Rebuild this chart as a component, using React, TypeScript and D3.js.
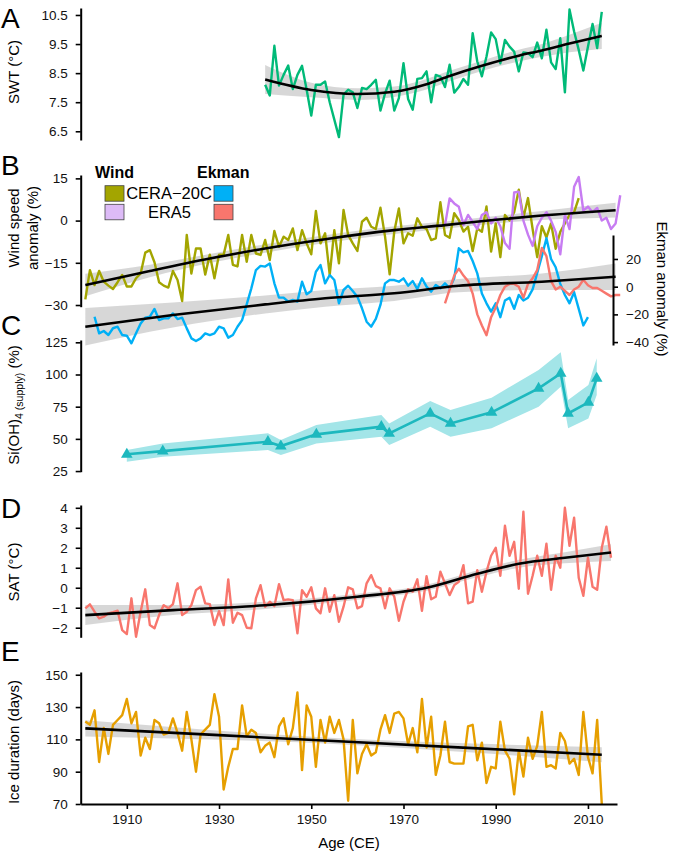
import * as d3 from "d3";
import { useEffect, useRef } from "react";

const FONT = "'Liberation Sans', Arial, Helvetica, sans-serif";

// ---------- A: SWT (°C), annual, 1940-2013
const swtStart = 1940;
const swtValues = [
  8.1, 7.73, 9.44, 8.07, 8.44, 8.76, 7.95, 8.44, 8.75, 7.93,
  7.04, 8.1, 8.1, 8.21, 7.5, 6.9, 6.3, 7.76, 7.93, 7.84,
  7.3, 7.99, 7.95, 8.1, 8.27, 7.21, 7.8, 8.24, 7.21, 7.64,
  8.84, 7.61, 7.24, 8.3, 8.33, 8.56, 7.5, 8.44, 8.38, 8.02,
  8.79, 7.83, 8.02, 8.3, 8.1, 9.87, 8.9, 8.39, 9.07, 9.9,
  9.67, 8.84, 9.64, 9.41, 9.24, 8.56, 9.21, 9.19, 9.05, 9.55,
  9.01, 9.99, 8.87, 8.64, 9.7, 7.84, 10.69, 9.93, 9.3, 8.59,
  9.41, 10.19, 9.36, 10.61,
];
const swtFitYears = [1940, 1950, 1960, 1968, 1975, 1980, 1987, 1995, 2000, 2006, 2013];
const swtFit = [8.28, 7.92, 7.78, 7.86, 8.12, 8.4, 8.75, 9.1, 9.28, 9.52, 9.78];
const swtFitSe = [0.5, 0.25, 0.2, 0.18, 0.18, 0.18, 0.18, 0.2, 0.22, 0.3, 0.45];

// ---------- B: wind speed anomaly (%) and Ekman anomaly (%)
const windCeraStart = 1901;
const windCera = [
  -28.0, -17.6, -22.9, -17.9, -21.7, -23.1, -24.3, -21.9, -19.3, -23.4,
  -23.4, -20.5, -18.8, -11.4, -10.5, -14.8, -21.9, -23.1, -23.8, -17.9,
  -21.1, -28.6, -5.1, -18.8, -9.9, -9.9, -19.2, -12.1, -20.5, -12.1,
  -12.1, -5.1, -15.7, -16.3, -5.1, -14.6, -5.1, -11.7, -12.2, -6.9,
  -14.0, -3.7, -9.3, -5.7, -6.9, -2.8, -10.5, -3.4, -8.1, -12.0,
  3.4, -8.1, -4.5, -19.3, -3.4, -15.2, 3.8, -5.1, -8.1, -10.8,
  -0.4, 1.0, -2.2, -3.0, 4.6, -5.7, -19.1, -3.9, 4.3, -8.1,
  -4.5, -5.4, 0.8, -2.2, -3.0, -6.9, -6.3, 6.5, -5.1, -6.1,
  2.6, 0.2, -3.9, -2.2, -10.8, -2.8, -4, 5, -11, -1,
  -13, 2, 0, 3, 11, 1, 8, -3, -13, -2,
  -6, -1, -10, -4, -1, 2, 3, 8,
];
const windEra5Start = 1979;
const windEra5 = [
  -1.6, 7.9, 6.1, 4.9, -1.6, 2.0, -0.5, -3, 2, 3,
  -1, 1, -2, -8, -10, 10, 10.3, 0, -5, -9,
  -2, 1, 3, 0, -4, -12, 2, -3, 12, 15.5,
  3.5, 5, 3, 4.5, 0, 1, -3, -1, 9,
];
const ekmanCeraStart = 1903;
const ekmanCera = [
  -21.7, -33.7, -32, -34.9, -30, -28.9, -34.9, -35.4, -40.9, -33.7,
  -26.5, -22.4, -21.7, -16.1, -24.1, -22.9, -22.9, -19.3, -23.4, -22.4,
  -30.1, -37.3, -39.2, -37.3, -33.7, -34.9, -33.7, -28.9, -30.1, -36.8,
  -34.9, -28.9, -24.1, -12.8, -1.2, 12.0, 15, 14.5, 16.8, 2.4,
  -7.9, -7.9, -10.8, -9.6, -10.8, 3.6, -5.5, -3.1, 10.8, 15.6,
  2.4, 8.4, 4.8, -12.0, -2.4, 0.7, -3.1, -7.2, -15.6, -25.3,
  -28.9, -23.3, -13.2, 2.4, 4.8, 4.8, 3.6, 6.0, 0.7, 4.1,
  -1.7, 6.0, 0.0, -3.6, 1.2, -1.2, 2.4, -1.2, 6.0, 27.7,
  24.8, 25.8, 18.5, 9.6, -5, -12, -18, -12, -22, -10,
  -8, -16, -6, -10, -8, -2, 10, 22, 35, 20,
  14, 2, -6, -12, -4, -16, -28, -22,
];
const ekmanEra5Start = 1979;
const ekmanEra5 = [
  -12, -2, 8, 13, 8, 4, -5, -20, -28, -35,
  -22, -15, -6, 0, 2, 2, 0, -8, 2, 6,
  12, 28, 22, 4, -2, 0, -3, -6, -2, 0,
  5, 1, -1, -1, -3, -5, -7, -6, -6,
];
const windFitYears = [1901, 1915, 1928, 1940, 1953, 1968, 1979, 1990, 2000, 2016];
const windFit = [-22.9, -17.9, -13.5, -9.9, -6.6, -3.4, -1.6, 0.3, 1.8, 3.7];
const windFitSe = [4, 2.2, 1.6, 1.5, 1.4, 1.4, 1.3, 1.3, 1.6, 2.6];
const ekmanFitYears = [1901, 1920, 1940, 1953, 1968, 1982, 2000, 2016];
const ekmanFit = [-28.9, -20.5, -12.8, -8.4, -4.8, 0.7, 3.6, 7.2];
const ekmanFitSe = [13.5, 9, 6.5, 6, 5.5, 4.8, 6, 9.6];

// ---------- C: Si(OH)4 supply (%)
const silicaYears = [1910, 1917.8, 1940.6, 1943.4, 1951.1, 1965.2, 1966.9, 1975.8, 1980.2, 1989.1, 1999.3, 2004.1, 2005.7, 2010.1, 2011.9];
const silicaValues = [38.0, 40.5, 47.8, 44.4, 53.5, 59.5, 54.3, 69.8, 62.0, 70.6, 89.2, 100.9, 69.8, 78.4, 97.0];
const silicaLow = [32.3, 36.1, 41.3, 37.4, 46.5, 51.7, 45.2, 59.5, 51.7, 58.2, 75.0, 90.5, 58.2, 65.9, 84.1];
const silicaHigh = [41.3, 46.5, 54.3, 49.1, 60.8, 68.5, 62.0, 79.4, 72.4, 82.0, 103.5, 117.2, 80.2, 91.8, 112.6];

// ---------- D: SAT (°C), annual, 1901-2015
const satStart = 1901;
const satValues = [
  -1.03, -0.83, -1.2, -1.53, -1.45, -1.28, -1.22, -1.15, -2.12, -2.32,
  -0.53, -2.45, -1.2, -0.08, -1.87, -2.03, -1.37, -0.87, -1.03, -0.82,
  0.22, -1.37, -1.2, -0.87, -0.12, 0.05, -0.78, -0.82, -1.87, -1.17,
  -1.87, 0.42, -1.75, -1.25, -1.37, -2.0, -2.03, -0.53, 0.13, -0.95,
  -0.7, -0.92, 0.18, -0.62, -0.58, -0.62, -2.28, -0.12, -0.45, 0.02,
  -1.03, -1.28, -0.03, -1.2, -0.37, -1.7, -0.95, 0.02, -0.08, -1.03,
  -0.92, 0.22, 0.63, 0.08, -0.03, -1.03, -0.03, -0.45, -1.65, -0.7,
  -0.08, -0.2, 0.42, -1.15, 0.58, -0.58, -0.45, 0.8, 0.22, -0.37,
  0.13, 0.3, 1.13, -0.78, -0.7, 0.88, -0.2, 0.8, 1.6, 2.0,
  0.6, 3.1, 1.6, 2.3, -0.05, 3.8, -0.3, 0.6, 1.6, 0.6,
  2.2, -0.1, 1.6, 1.0, 4.0, 2.1, 3.5, 0.5, -0.4, 1.5,
  0.05, -0.1, 2.0, 3.05, 1.5,
];
const satFitYears = [1901, 1920, 1940, 1960, 1975, 1986, 1995, 2005, 2015];
const satFit = [-1.37, -1.12, -0.88, -0.45, 0.0, 0.7, 1.2, 1.5, 1.76];
const satFitSe = [0.5, 0.25, 0.18, 0.15, 0.15, 0.18, 0.2, 0.28, 0.42];

// ---------- E: ice duration (days), annual, 1901-2013
const iceStart = 1901;
const iceValues = [
  121, 119, 128, 96, 117, 101, 119, 122, 125, 135,
  120, 127, 100, 111, 104, 122, 120, 113, 114, 123,
  114, 103, 127, 110, 90, 113, 116, 119, 138, 124,
  79, 93, 104, 104, 131, 112, 116, 114, 102, 106,
  108, 99, 118, 123, 107, 117, 139, 91, 131, 124,
  93, 122, 108, 124, 114, 122, 110, 72, 122, 89,
  101, 107, 100, 102, 116, 125, 114, 126, 127, 123,
  107, 117, 102, 135, 105, 124, 88, 100, 121, 96,
  95, 95, 95, 118, 119, 97, 108, 83, 93, 92,
  121, 103, 98, 76, 103, 87, 111, 98, 106, 127,
  93, 94, 92, 114, 109, 95, 98, 88, 127, 99,
  89, 122, 70,
];
const iceFitYears = [1901, 1930, 1957, 1985, 2013];
const iceFit = [116.8, 112.6, 108.7, 104.6, 100.5];
const iceFitSe = [5, 2.8, 1.8, 2.8, 4.6];

const xTicks = [1910, 1930, 1950, 1970, 1990, 2010];

type Pt = [number, number];
const annual = (start: number, vals: number[]): Pt[] => vals.map((v, i) => [start + i, v]);

// ggplot-style labels with a true minus sign
const num = (d: number) => (d < 0 ? "\u2212" + Math.abs(d) : String(d));

export default function App() {
  const svgRef = useRef<SVGSVGElement>(null);

  useEffect(() => {
    if (!svgRef.current) return;
    const svg = d3.select(svgRef.current);
    svg.selectAll("*").remove();

    const x = d3.scaleLinear().domain([1900, 2016.3]).range([80.7, 617]);

    const yA = d3.scaleLinear().domain([6.2, 10.74]).range([140, 8]);
    const yB = d3.scaleLinear().domain([-30.6, 16.2]).range([306.7, 175]);
    const yBr = d3.scaleLinear().domain([-42.1, 37.3]).range([345, 235]);
    const yC = d3.scaleLinear().domain([24.5, 126.8]).range([471.7, 340]);
    const yD = d3.scaleLinear().domain([-2.48, 4.14]).range([637.3, 505]);
    const yE = d3.scaleLinear().domain([70, 151.7]).range([804, 672]);

    const g = svg.append("g").style("font-family", FONT);

    const band = (years: number[], fit: number[], se: number[], y: d3.ScaleLinear<number, number>) => {
      const rows = years.map((yr, i) => ({ yr, lo: fit[i] - se[i], hi: fit[i] + se[i] }));
      g.append("path")
        .attr("d", d3.area<any>().x((d) => x(d.yr)).y0((d) => y(d.lo)).y1((d) => y(d.hi)).curve(d3.curveMonotoneX)(rows)!)
        .attr("fill", "#d3d3d3")
        .attr("opacity", 0.9);
    };
    const fitLine = (years: number[], fit: number[], y: d3.ScaleLinear<number, number>) => {
      g.append("path")
        .attr("d", d3.line<number>().x((d, i) => x(years[i])).y((d) => y(d)).curve(d3.curveMonotoneX)(fit)!)
        .attr("fill", "none")
        .attr("stroke", "#000")
        .attr("stroke-width", 2.6);
    };
    const series = (pts: Pt[], y: d3.ScaleLinear<number, number>, color: string, w = 2.4) => {
      g.append("path")
        .attr("d", d3.line<Pt>().x((d) => x(d[0])).y((d) => y(d[1]))(pts)!)
        .attr("fill", "none")
        .attr("stroke", color)
        .attr("stroke-width", w)
        .attr("stroke-linejoin", "round");
    };
    const yAxis = (y: d3.ScaleLinear<number, number>, ticks: number[], fmt: (d: number) => string, right = false) => {
      const axis = (right ? d3.axisRight(y) : d3.axisLeft(y))
        .tickValues(ticks)
        .tickFormat((d) => fmt(+d))
        .tickSize(5)
        .tickSizeOuter(0)
        .tickPadding(8);
      const ax = g.append("g").attr("transform", `translate(${right ? 613 : 80.7},0)`).call(axis as any);
      ax.select(".domain").attr("stroke", "#000").attr("stroke-width", 2);
      ax.selectAll(".tick line").attr("stroke", "#000").attr("stroke-width", 1.6);
      ax.selectAll(".tick text").attr("font-size", 13.5).attr("fill", "#111").attr("font-family", FONT);
    };
    const panelLabel = (t: string, yb: number) =>
      g.append("text").attr("x", 1).attr("y", yb).attr("font-size", 28).text(t);
    const leftTitle = (lines: string[], cy: number) => {
      lines.forEach((l, i) =>
        g.append("text")
          .attr("transform", `translate(${19 + i * 19},${cy}) rotate(-90)`)
          .attr("text-anchor", "middle")
          .attr("font-size", 15)
          .text(l)
      );
    };

    // ---- A
    band(swtFitYears, swtFit, swtFitSe, yA);
    series(annual(swtStart, swtValues), yA, "#00BA78");
    fitLine(swtFitYears, swtFit, yA);
    yAxis(yA, [6.5, 7.5, 8.5, 9.5, 10.5], d3.format(".1f"));
    panelLabel("A", 28);
    leftTitle(["SWT (°C)"], 72);

    // ---- B
    band(windFitYears, windFit, windFitSe, yB);
    band(ekmanFitYears, ekmanFit, ekmanFitSe, yBr);
    series(annual(windCeraStart, windCera), yB, "#A3A500");
    series(annual(windEra5Start, windEra5), yB, "#C77CF2");
    series(annual(ekmanCeraStart, ekmanCera), yBr, "#00B0F6");
    series(annual(ekmanEra5Start, ekmanEra5), yBr, "#F8766D");
    fitLine(windFitYears, windFit, yB);
    fitLine(ekmanFitYears, ekmanFit, yBr);
    yAxis(yB, [-30, -15, 0, 15], num);
    yAxis(yBr, [-40, -20, 0, 20], num, true);
    panelLabel("B", 175);
    leftTitle(["Wind speed", "anomaly (%)"], 228);
    g.append("text")
      .attr("transform", `translate(657,289) rotate(90)`)
      .attr("text-anchor", "middle")
      .attr("font-size", 15)
      .text("Ekman anomaly (%)");

    // legend
    const lg = g.append("g");
    lg.append("text").attr("x", 95).attr("y", 178).attr("font-size", 16).attr("font-weight", "bold").text("Wind");
    lg.append("text").attr("x", 197).attr("y", 178).attr("font-size", 16).attr("font-weight", "bold").text("Ekman");
    const boxes: [number, number, string][] = [
      [105, 185.7, "#A3A500"],
      [105, 204.3, "#DDBBF7"],
      [214, 185.7, "#00B0F6"],
      [214, 204.3, "#F8766D"],
    ];
    boxes.forEach(([bx, by, c]) =>
      lg.append("rect").attr("x", bx).attr("y", by).attr("width", 19).attr("height", 15.5)
        .attr("fill", c).attr("stroke", "#444").attr("stroke-width", 0.8)
    );
    lg.append("text").attr("x", 169).attr("y", 199).attr("text-anchor", "middle").attr("font-size", 16.5).text("CERA\u221220C");
    lg.append("text").attr("x", 169.5).attr("y", 218).attr("text-anchor", "middle").attr("font-size", 16.5).text("ERA5");

    // ---- C
    const silicaRows = silicaYears.map((yr, i) => ({ yr, v: silicaValues[i], lo: silicaLow[i], hi: silicaHigh[i] }));
    g.append("path")
      .attr("d", d3.area<any>().x((d) => x(d.yr)).y0((d) => yC(d.lo)).y1((d) => yC(d.hi))(silicaRows)!)
      .attr("fill", "#A3E5E8");
    g.append("path")
      .attr("d", d3.line<any>().x((d) => x(d.yr)).y((d) => yC(d.v))(silicaRows)!)
      .attr("fill", "none")
      .attr("stroke", "#1DB8BE")
      .attr("stroke-width", 2.6);
    g.selectAll(".tri")
      .data(silicaRows)
      .enter()
      .append("path")
      .attr("transform", (d) => `translate(${x(d.yr)},${yC(d.v)})`)
      .attr("d", d3.symbol().type(d3.symbolTriangle).size(58)()!)
      .attr("fill", "#1DB8BE");
    yAxis(yC, [25, 50, 75, 100, 125], num);
    panelLabel("C", 335);
    const ct = g.append("text")
      .attr("transform", `translate(19,405) rotate(-90)`)
      .attr("text-anchor", "middle")
      .attr("font-size", 15);
    ct.append("tspan").text("Si(OH)");
    ct.append("tspan").attr("font-size", 10.5).attr("dy", 4).text("4 (supply)");
    ct.append("tspan").attr("dy", -4).text(" (%)");

    // ---- D
    band(satFitYears, satFit, satFitSe, yD);
    series(annual(satStart, satValues), yD, "#F8766D");
    fitLine(satFitYears, satFit, yD);
    yAxis(yD, [-2, -1, 0, 1, 2, 3, 4], num);
    panelLabel("D", 518);
    leftTitle(["SAT (°C)"], 572);

    // ---- E
    band(iceFitYears, iceFit, iceFitSe, yE);
    series(annual(iceStart, iceValues), yE, "#E69F00");
    fitLine(iceFitYears, iceFit, yE);
    yAxis(yE, [70, 90, 110, 130, 150], num);
    panelLabel("E", 661);
    leftTitle(["Ice duration (days)"], 742);

    const xa = g.append("g").attr("transform", "translate(0,804)")
      .call(d3.axisBottom(x).tickValues(xTicks).tickFormat((d) => String(d)).tickSize(5).tickSizeOuter(0).tickPadding(5) as any);
    xa.select(".domain").attr("stroke", "#000").attr("stroke-width", 2);
    xa.selectAll(".tick line").attr("stroke", "#000").attr("stroke-width", 1.6);
    xa.selectAll(".tick text").attr("font-size", 13.5).attr("fill", "#111").attr("font-family", FONT);
    g.append("text").attr("x", 349).attr("y", 848).attr("text-anchor", "middle").attr("font-size", 15).text("Age (CE)");
  }, []);

  return (
    <svg
      ref={svgRef}
      width={677}
      height={854}
      style={{ position: "absolute", left: 0, top: 0, background: "#fff" }}
    />
  );
}
